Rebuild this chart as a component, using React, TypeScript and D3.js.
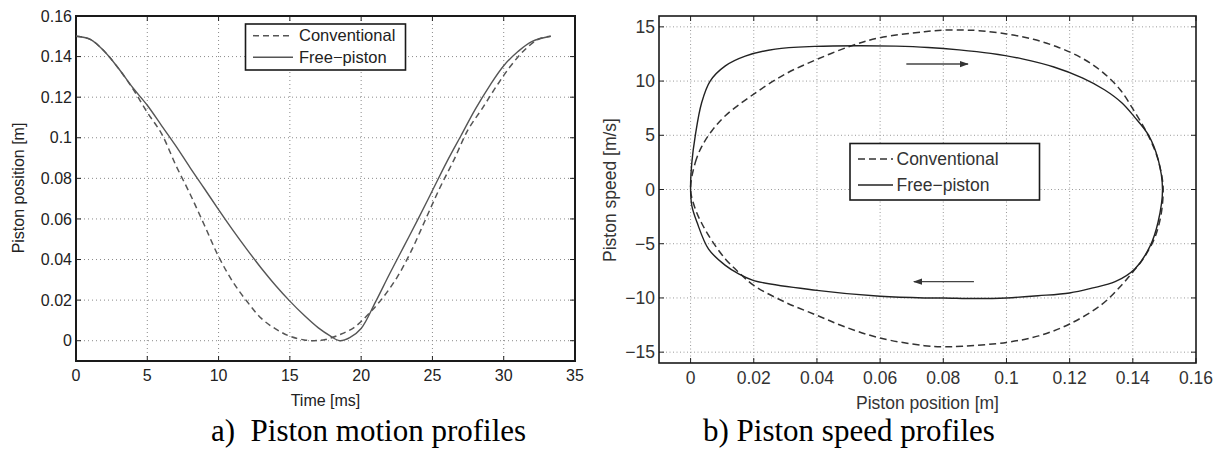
import React from "react";
import * as d3 from "d3";

// ---------- DATA ----------
// Panel a) piston position vs time
const convTimeMs = [0, 1, 2, 3, 4, 5, 6, 7, 8, 9, 10, 11, 12, 13, 14, 15, 16, 16.7, 17.5, 18.5, 19.5, 20.5, 21.5, 22.5, 23.5, 24.5, 25.5, 26.5, 27.5, 28.5, 29.5, 30.5, 31.5, 32.5, 33.3];
const convPosM = [0.15, 0.1485, 0.1425, 0.134, 0.124, 0.1125, 0.102, 0.0865, 0.0723, 0.057, 0.0415, 0.029, 0.0193, 0.011, 0.0058, 0.0022, 0.0004, 0, 0.0006, 0.003, 0.0065, 0.013, 0.021, 0.031, 0.044, 0.0595, 0.075, 0.089, 0.104, 0.1145, 0.1255, 0.1355, 0.1435, 0.1488, 0.15];

const freeTimeMs = [0, 1, 2, 3, 4, 5, 6, 7, 8, 9, 10, 11, 12, 13, 14, 15, 16, 17, 17.8, 18.5, 19.2, 20, 21, 22, 23, 24, 25, 26, 27, 28, 29, 30, 31, 32, 33.3];
const freePosM = [0.15, 0.1485, 0.1425, 0.134, 0.1245, 0.116, 0.106, 0.096, 0.0853, 0.075, 0.0646, 0.0545, 0.0449, 0.0357, 0.0272, 0.0195, 0.0125, 0.0063, 0.0025, 0, 0.0015, 0.006, 0.019, 0.033, 0.0465, 0.06, 0.074, 0.088, 0.101, 0.114, 0.1255, 0.1355, 0.1425, 0.1475, 0.15];

// Panel b) piston speed vs position (closed loops, traversal order)
const convLoopPos = [0, 0.0015, 0.0036, 0.0067, 0.011, 0.02, 0.03, 0.04, 0.051, 0.06, 0.074, 0.08, 0.087, 0.0913, 0.1, 0.1085, 0.1165, 0.124, 0.1305, 0.136, 0.1405, 0.1445, 0.1475, 0.1492, 0.1496, 0.149, 0.147, 0.1435, 0.14, 0.1365, 0.1302, 0.12, 0.1102, 0.1, 0.086, 0.08, 0.074, 0.06, 0.0489, 0.04, 0.03, 0.02, 0.0151, 0.011, 0.0067, 0.0036, 0.0015];
const convLoopSpeed = [0, 2.5, 4.0, 5.4, 6.8, 8.8, 10.65, 12.0, 13.26, 14.0, 14.55, 14.7, 14.7, 14.65, 14.35, 13.85, 13.1, 12.1, 10.8, 9.2, 7.2, 5.2, 3.2, 1.2, 0, -2.2, -4.4, -6.3, -7.6, -8.8, -10.6, -12.4, -13.5, -14.1, -14.45, -14.5, -14.4, -13.7, -12.67, -11.6, -10.4, -8.84, -7.6, -6.4, -4.7, -3.16, -1.8];

const freeLoopPos = [0, 0.0004, 0.0015, 0.0035, 0.0062, 0.011, 0.0173, 0.0268, 0.0394, 0.053, 0.065, 0.0752, 0.085, 0.095, 0.105, 0.115, 0.124, 0.131, 0.1365, 0.1405, 0.145, 0.148, 0.1494, 0.148, 0.1455, 0.1407, 0.1344, 0.127, 0.12, 0.11, 0.1, 0.09, 0.08, 0.074, 0.06, 0.04, 0.02, 0.0151, 0.011, 0.0057, 0.002, 0.0004];
const freeLoopSpeed = [0, 2.5, 5, 8, 10, 11.4, 12.3, 12.95, 13.2, 13.26, 13.22, 13.1, 12.88, 12.55, 12.05, 11.3, 10.3, 9.2, 8.0, 6.7, 5.0, 2.8, 0, -3.0, -5.2, -7.3, -8.5, -9.1, -9.54, -9.8, -10.0, -10.05, -10.0, -10.0, -9.85, -9.3, -8.4, -7.76, -7.0, -5.5, -3.0, -1.5];

// direction arrows on panel b) : [fromPos, toPos, speed]
const arrowFromPos = [0.0683, 0.0897];
const arrowToPos = [0.0878, 0.0707];
const arrowSpeed = [11.57, -8.5];

// ticks
const leftXTicks = [0, 5, 10, 15, 20, 25, 30, 35];
const leftYTicks = [0, 0.02, 0.04, 0.06, 0.08, 0.1, 0.12, 0.14, 0.16];
const leftYTickLabels = ["0", "0.02", "0.04", "0.06", "0.08", "0.1", "0.12", "0.14", "0.16"];
const rightXTicks = [0, 0.02, 0.04, 0.06, 0.08, 0.1, 0.12, 0.14, 0.16];
const rightXTickLabels = ["0", "0.02", "0.04", "0.06", "0.08", "0.1", "0.12", "0.14", "0.16"];
const rightYTicks = [-15, -10, -5, 0, 5, 10, 15];
const rightYTickLabels = ["\u221215", "\u221210", "\u22125", "0", "5", "10", "15"];

const seriesNames = ["Conventional", "Free\u2212piston"];
const captions = ["a)  Piston motion profiles", "b) Piston speed profiles"];
const axisTitles = ["Time [ms]", "Piston position [m]", "Piston position [m]", "Piston speed [m/s]"];

// ---------- CHART ----------
const SANS = "'Liberation Sans', Arial, Helvetica, sans-serif";
const SERIF = "'Liberation Serif', 'Times New Roman', serif";

function Frame({ x0, x1, y0, y1, xs, ys, xTicks, yTicks, gridX, gridY, sw, gridColor, dash }: any) {
  const tl = 5;
  return (
    <g>
      {gridX.map((t: number, i: number) => (
        <line key={"gx" + i} x1={xs(t)} x2={xs(t)} y1={y0} y2={y1} stroke={gridColor} strokeWidth={1} strokeDasharray={dash} />
      ))}
      {gridY.map((t: number, i: number) => (
        <line key={"gy" + i} x1={x0} x2={x1} y1={ys(t)} y2={ys(t)} stroke={gridColor} strokeWidth={1} strokeDasharray={dash} />
      ))}
      {xTicks.map((t: number, i: number) => (
        <g key={"tx" + i}>
          <line x1={xs(t)} x2={xs(t)} y1={y1} y2={y1 - tl} stroke="#222" strokeWidth={1} />
          <line x1={xs(t)} x2={xs(t)} y1={y0} y2={y0 + tl} stroke="#222" strokeWidth={1} />
        </g>
      ))}
      {yTicks.map((t: number, i: number) => (
        <g key={"ty" + i}>
          <line x1={x0} x2={x0 + tl} y1={ys(t)} y2={ys(t)} stroke="#222" strokeWidth={1} />
          <line x1={x1} x2={x1 - tl} y1={ys(t)} y2={ys(t)} stroke="#222" strokeWidth={1} />
        </g>
      ))}
      <rect x={x0} y={y0} width={x1 - x0} height={y1 - y0} fill="none" stroke="#1a1a1a" strokeWidth={sw} />
    </g>
  );
}

export default function App() {
  // Panel a scales
  const lx = d3.scaleLinear().domain([0, 35]).range([76, 575]);
  const ly = d3.scaleLinear().domain([-0.01, 0.16]).range([361, 16]);
  // Panel b scales
  const rx = d3.scaleLinear().domain([-0.01, 0.16]).range([659, 1196]);
  const ry = d3.scaleLinear().domain([-16, 16]).range([363, 16]);

  const lineA = d3.line<[number, number]>().x((d) => lx(d[0])).y((d) => ly(d[1])).curve(d3.curveCatmullRom.alpha(0.5));
  const convA = lineA(convTimeMs.map((t, i) => [t, convPosM[i]] as [number, number])) || "";
  const freeA = lineA(freeTimeMs.map((t, i) => [t, freePosM[i]] as [number, number])) || "";

  const lineB = d3.line<[number, number]>().x((d) => rx(d[0])).y((d) => ry(d[1])).curve(d3.curveCatmullRomClosed.alpha(0.5));
  const convB = lineB(convLoopPos.map((p, i) => [p, convLoopSpeed[i]] as [number, number])) || "";
  const freeB = lineB(freeLoopPos.map((p, i) => [p, freeLoopSpeed[i]] as [number, number])) || "";

  const fsA = 16;
  const fsB = 17.5;

  return (
    <div style={{ position: "absolute", left: 0, top: 0 }}>
      <svg width={1223} height={450} viewBox="0 0 1223 450" style={{ display: "block", background: "#fff" }}>
        <defs>
          <marker id="ahead" viewBox="0 0 10 10" refX="9" refY="5" markerWidth="9" markerHeight="9" markerUnits="userSpaceOnUse" orient="auto">
            <path d="M0,1.5 L10,5 L0,8.5 Z" fill="#333" />
          </marker>
        </defs>
        <rect x={0} y={0} width={1223} height={450} fill="#fff" />

        {/* ----- Panel a ----- */}
        <Frame x0={76} x1={575} y0={16} y1={361} xs={lx} ys={ly}
          xTicks={leftXTicks} yTicks={leftYTicks}
          gridX={leftXTicks.slice(1, -1)} gridY={leftYTicks.slice(0, -1)}
          sw={2} gridColor="#8a8a8a" dash="1,3" />
        <path d={convA} fill="none" stroke="#555" strokeWidth={1.5} strokeDasharray="6,4" />
        <path d={freeA} fill="none" stroke="#555" strokeWidth={1.4} />
        {leftXTicks.map((t, i) => (
          <text key={"lxl" + i} x={lx(t)} y={375} dy="0.35em" textAnchor="middle" fontFamily={SANS} fontSize={fsA} fill="#222">{t}</text>
        ))}
        {leftYTicks.map((t, i) => (
          <text key={"lyl" + i} x={72} y={ly(t)} dy="0.35em" textAnchor="end" fontFamily={SANS} fontSize={fsA} fill="#222">{leftYTickLabels[i]}</text>
        ))}
        <text x={325.5} y={400} dy="0.35em" textAnchor="middle" fontFamily={SANS} fontSize={fsA} fill="#222">{axisTitles[0]}</text>
        <text transform={`translate(18,188) rotate(-90)`} dy="0.35em" textAnchor="middle" fontFamily={SANS} fontSize={fsA} fill="#222">{axisTitles[1]}</text>
        {/* legend a */}
        <rect x={245.5} y={24} width={160} height={46} fill="#fff" stroke="#1a1a1a" strokeWidth={1.6} />
        <line x1={253} x2={293} y1={35.7} y2={35.7} stroke="#555" strokeWidth={1.5} strokeDasharray="6,4" />
        <line x1={253} x2={293} y1={57.3} y2={57.3} stroke="#555" strokeWidth={1.5} />
        <text x={299} y={35.7} dy="0.35em" fontFamily={SANS} fontSize={16.5} fill="#222">{seriesNames[0]}</text>
        <text x={299} y={57.3} dy="0.35em" fontFamily={SANS} fontSize={16.5} fill="#222">{seriesNames[1]}</text>

        {/* ----- Panel b ----- */}
        <Frame x0={659} x1={1196} y0={16} y1={363} xs={rx} ys={ry}
          xTicks={rightXTicks} yTicks={rightYTicks}
          gridX={rightXTicks.slice(0, -1)} gridY={rightYTicks}
          sw={1.6} gridColor="#9a9a9a" dash="1,2.5" />
        <path d={convB} fill="none" stroke="#333" strokeWidth={1.5} strokeDasharray="7,4" />
        <path d={freeB} fill="none" stroke="#222" strokeWidth={1.4} />
        {arrowFromPos.map((p, i) => (
          <line key={"ar" + i} x1={rx(p)} x2={rx(arrowToPos[i])} y1={ry(arrowSpeed[i])} y2={ry(arrowSpeed[i])} stroke="#444" strokeWidth={1.4} markerEnd="url(#ahead)" />
        ))}
        {rightXTicks.map((t, i) => (
          <text key={"rxl" + i} x={rx(t)} y={377.7} dy="0.35em" textAnchor="middle" fontFamily={SANS} fontSize={fsB} fill="#333">{rightXTickLabels[i]}</text>
        ))}
        {rightYTicks.map((t, i) => (
          <text key={"ryl" + i} x={655} y={ry(t)} dy="0.35em" textAnchor="end" fontFamily={SANS} fontSize={fsB} fill="#333">{rightYTickLabels[i]}</text>
        ))}
        <text x={927.5} y={402.7} dy="0.35em" textAnchor="middle" fontFamily={SANS} fontSize={fsB} fill="#333">{axisTitles[2]}</text>
        <text transform={`translate(610,190) rotate(-90)`} dy="0.35em" textAnchor="middle" fontFamily={SANS} fontSize={fsB} fill="#333">{axisTitles[3]}</text>
        {/* legend b */}
        <rect x={850} y={143.5} width={189.5} height={56.5} fill="#fff" stroke="#1a1a1a" strokeWidth={1.6} />
        <line x1={858} x2={893} y1={159} y2={159} stroke="#333" strokeWidth={1.5} strokeDasharray="7,4" />
        <line x1={858} x2={893} y1={185} y2={185} stroke="#222" strokeWidth={1.4} />
        <text x={896.5} y={159} dy="0.35em" fontFamily={SANS} fontSize={17.5} fill="#333">{seriesNames[0]}</text>
        <text x={896.5} y={185} dy="0.35em" fontFamily={SANS} fontSize={17.5} fill="#333">{seriesNames[1]}</text>

        {/* captions */}
        <text x={211} y={441} fontFamily={SERIF} fontSize={31} fill="#000" style={{ whiteSpace: "pre" }} xmlSpace="preserve">{captions[0]}</text>
        <text x={703} y={441} fontFamily={SERIF} fontSize={31} fill="#000" style={{ whiteSpace: "pre" }} xmlSpace="preserve">{captions[1]}</text>
      </svg>
    </div>
  );
}
